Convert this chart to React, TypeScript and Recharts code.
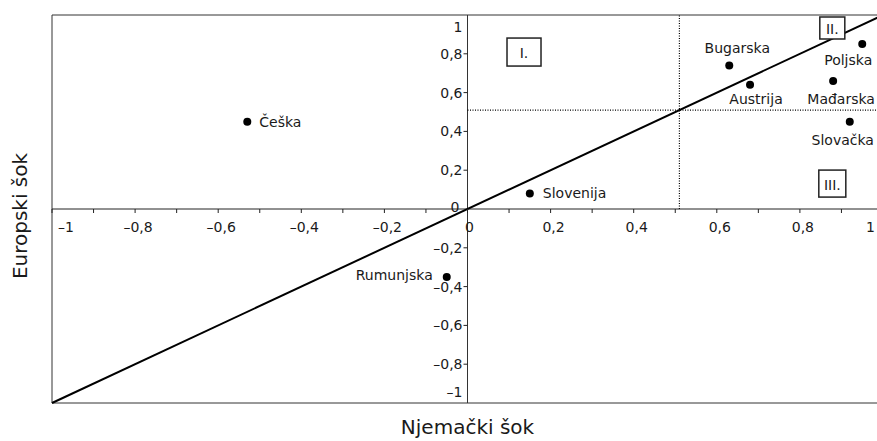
import React from "react";
import {
  ScatterChart,
  Scatter,
  XAxis,
  YAxis,
  ReferenceLine,
  ReferenceDot,
  ReferenceArea,
} from "recharts";

// country positions: x = German shock, y = European shock
const countries = ["Češka", "Bugarska", "Austrija", "Poljska", "Mađarska", "Slovačka", "Slovenija", "Rumunjska"];
const germanShock = [-0.53, 0.63, 0.68, 0.95, 0.88, 0.92, 0.15, -0.05];
const europeanShock = [0.45, 0.74, 0.64, 0.85, 0.66, 0.45, 0.08, -0.35];

// axis ticks (axes cross at the origin)
const xMinorTicks = [-1, -0.9, -0.8, -0.7, -0.6, -0.5, -0.4, -0.3, -0.2, -0.1, 0, 0.1, 0.2, 0.3, 0.4, 0.5, 0.6, 0.7, 0.8, 0.9, 1];
const xTickValues = [-1, -0.8, -0.6, -0.4, -0.2, 0, 0.2, 0.4, 0.6, 0.8, 1];
const xTickLabels = ["–1", "–0,8", "–0,6", "–0,4", "–0,2", "0", "0,2", "0,4", "0,6", "0,8", "1"];
const yTickValues = [1, 0.8, 0.6, 0.4, 0.2, 0, -0.2, -0.4, -0.6, -0.8, -1];
const yTickLabels = ["1", "0,8", "0,6", "0,4", "0,2", "0", "–0,2", "–0,4", "–0,6", "–0,8", "–1"];

// threshold lines and quadrant markers
const threshold = 0.51;
const regionNames = ["I.", "II.", "III."];
const regionX = [0.136, 0.878, 0.878];
const regionY = [0.809, 0.933, 0.131];

const FONT = '"DejaVu Sans", sans-serif';
const INK = "#1a1a1a";

const labelPlace: Record<string, { dx: number; dy: number; anchor: string }> = {
  "Češka": { dx: 12, dy: 0, anchor: "start" },
  Bugarska: { dx: 8, dy: -17, anchor: "middle" },
  Austrija: { dx: 6, dy: 14, anchor: "middle" },
  Poljska: { dx: -14, dy: 16, anchor: "middle" },
  "Mađarska": { dx: 8, dy: 18, anchor: "middle" },
  "Slovačka": { dx: -7, dy: 18, anchor: "middle" },
  Slovenija: { dx: 13, dy: 0, anchor: "start" },
  Rumunjska: { dx: -14, dy: -2, anchor: "end" },
};

const boxSize: Record<string, [number, number]> = {
  "I.": [34, 28],
  "II.": [25, 22],
  "III.": [27, 27],
};

const points = countries.map((name, i) => ({ name, x: germanShock[i], y: europeanShock[i] }));

function CountryDot(props: any) {
  const { cx, cy, payload } = props;
  const p = labelPlace[payload.name];
  return (
    <g>
      <circle cx={cx} cy={cy} r={4} fill="#000" />
      <text
        x={cx + p.dx}
        y={cy + p.dy}
        textAnchor={p.anchor as any}
        dominantBaseline="central"
        fontFamily={FONT}
        fontSize={14}
        fill={INK}
      >
        {payload.name}
      </text>
    </g>
  );
}

export default function App() {
  return (
    <div
      style={{
        position: "fixed",
        left: 0,
        top: 0,
        width: 877,
        height: 441,
        overflow: "hidden",
        background: "#fff",
      }}
    >
      <ScatterChart width={900} height={441} margin={{ top: 15, right: 17, bottom: 0, left: 0 }}>
        <XAxis
          type="number"
          dataKey="x"
          domain={[-1, 1]}
          ticks={xTickValues}
          tick={false}
          tickLine={false}
          axisLine={false}
          height={38}
          label={{
            content: (p: any) => (
              <text
                x={p.viewBox.x + p.viewBox.width / 2}
                y={p.viewBox.y + 24}
                textAnchor="middle"
                dominantBaseline="central"
                fontFamily={FONT}
                fontSize={20}
                fill={INK}
              >
                Njemački šok
              </text>
            ),
          }}
        />
        <YAxis
          type="number"
          dataKey="y"
          domain={[-1, 1]}
          ticks={yTickValues}
          tick={false}
          tickLine={false}
          axisLine={false}
          width={52}
          label={{
            content: (p: any) => {
              const x = 20;
              const y = p.viewBox.y + p.viewBox.height / 2 + 7;
              return (
                <text
                  x={x}
                  y={y}
                  transform={`rotate(-90 ${x} ${y})`}
                  textAnchor="middle"
                  dominantBaseline="central"
                  fontFamily={FONT}
                  fontSize={20}
                  fill={INK}
                >
                  Europski šok
                </text>
              );
            },
          }}
        />

        <ReferenceArea x1={-1} x2={1} y1={-1} y2={1} fill="none" stroke="#333" strokeWidth={1} />
        <ReferenceLine y={0} stroke="#222" strokeWidth={1} />
        <ReferenceLine x={0} stroke="#333" strokeWidth={1} />

        <ReferenceLine
          segment={[{ x: 0, y: threshold }, { x: 1, y: threshold }]}
          stroke="#000"
          strokeDasharray="1 1.5"
          strokeWidth={1.2}
        />
        <ReferenceLine
          segment={[{ x: threshold, y: 0 }, { x: threshold, y: 1 }]}
          stroke="#000"
          strokeDasharray="1 1.5"
          strokeWidth={1.2}
        />

        <ReferenceLine
          segment={[{ x: -1, y: -1 }, { x: 1, y: 1 }]}
          stroke="#000"
          strokeWidth={2}
        />

        {xMinorTicks.map((v) => (
          <ReferenceDot
            key={`xm${v}`}
            x={v}
            y={0}
            r={0}
            shape={(p: any) => <line x1={p.cx} y1={p.cy} x2={p.cx} y2={p.cy + 4} stroke="#222" strokeWidth={1} />}
          />
        ))}
        {xTickValues.map((v, i) => (
          <ReferenceDot
            key={`xl${v}`}
            x={v}
            y={0}
            r={0}
            shape={(p: any) => {
              let dx = 3;
              let anchor = "middle";
              if (v === -1) {
                dx = 6;
                anchor = "start";
              } else if (v === 1) {
                dx = -8;
                anchor = "end";
              } else if (v === 0) {
                dx = 2;
              }
              return (
                <text
                  x={p.cx + dx}
                  y={p.cy + 18}
                  textAnchor={anchor as any}
                  dominantBaseline="central"
                  fontFamily={FONT}
                  fontSize={14}
                  fill={INK}
                >
                  {xTickLabels[i]}
                </text>
              );
            }}
          />
        ))}
        {yTickValues.map((v, i) => (
          <ReferenceDot
            key={`yl${v}`}
            x={0}
            y={v}
            r={0}
            shape={(p: any) => {
              let dy = 0;
              let dx = -5;
              if (v === 1) dy = 12;
              if (v === -1) dy = -11;
              if (v === 0) {
                dy = -2;
                dx = -8;
              }
              const tick = v !== 0 && v !== 1 && v !== -1;
              return (
                <g>
                  {tick && <line x1={p.cx - 4} y1={p.cy} x2={p.cx} y2={p.cy} stroke="#222" strokeWidth={1} />}
                  <text
                    x={p.cx + dx}
                    y={p.cy + dy}
                    textAnchor="end"
                    dominantBaseline="central"
                    fontFamily={FONT}
                    fontSize={14}
                    fill={INK}
                  >
                    {yTickLabels[i]}
                  </text>
                </g>
              );
            }}
          />
        ))}

        <Scatter data={points} shape={CountryDot} isAnimationActive={false} />

        {regionNames.map((name, i) => (
          <ReferenceDot
            key={name}
            x={regionX[i]}
            y={regionY[i]}
            r={0}
            shape={(p: any) => {
              const [w, h] = boxSize[name];
              return (
                <g>
                  <rect x={p.cx - w / 2} y={p.cy - h / 2} width={w} height={h} fill="#fff" stroke="#222" strokeWidth={1.5} />
                  <text
                    x={p.cx}
                    y={p.cy + 1}
                    textAnchor="middle"
                    dominantBaseline="central"
                    fontFamily={FONT}
                    fontSize={14}
                    fill={INK}
                  >
                    {name}
                  </text>
                </g>
              );
            }}
          />
        ))}
      </ScatterChart>
    </div>
  );
}
